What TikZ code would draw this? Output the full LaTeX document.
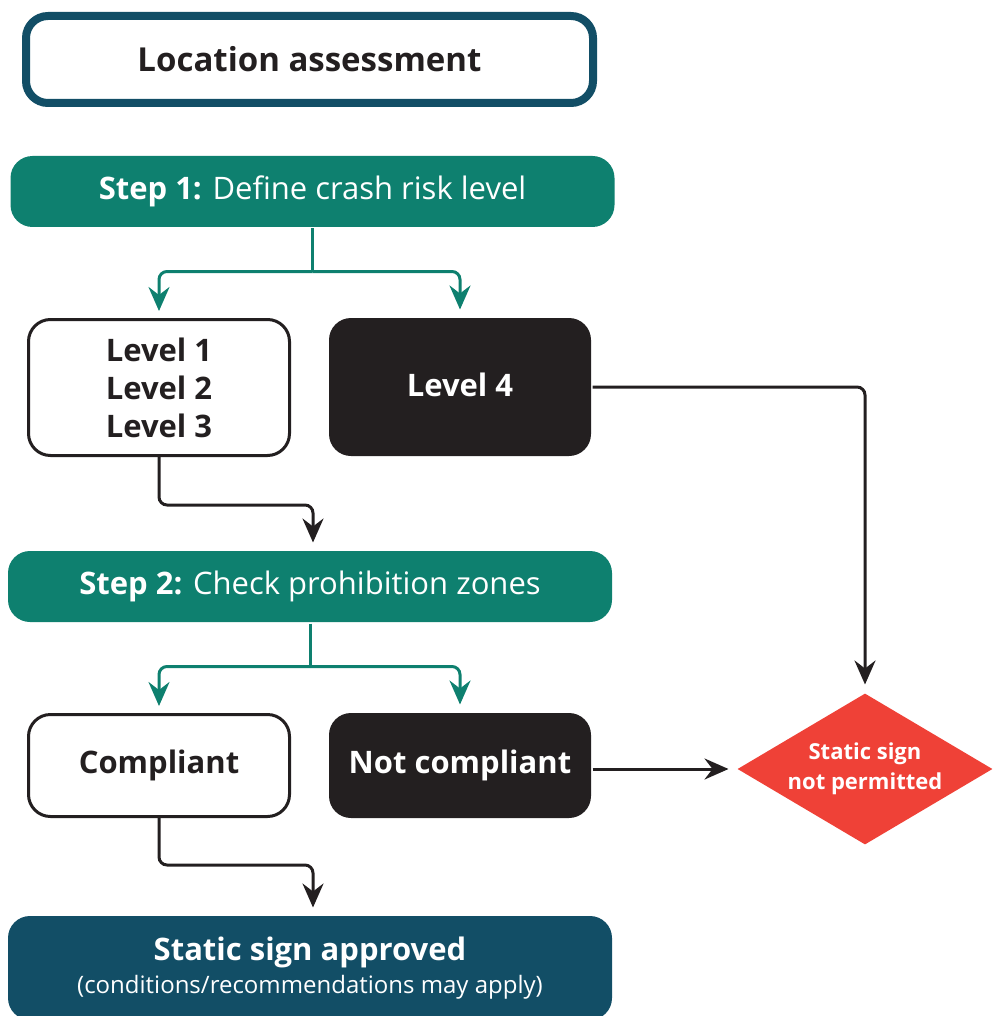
\documentclass[tikz,border=0pt]{standalone}
\usepackage{fontspec}
\setmainfont{Open Sans}
\usetikzlibrary{arrows.meta,shapes.geometric,positioning}
\definecolor{navy}{HTML}{124E66}
\definecolor{sea}{HTML}{0E806F}
\definecolor{ink}{HTML}{231F20}
\definecolor{alarm}{HTML}{EF4137}

\begin{document}
\begin{tikzpicture}[x=1pt,y=-1pt,>={Stealth[length=24pt,width=21pt,inset=8pt]},
                    line width=3pt,
                    step box/.style={rounded corners=22pt,fill=sea,text=white,minimum width=604pt,minimum height=71pt,
                                     font=\fontsize{31}{36}\selectfont},
                    white box/.style={rounded corners=22pt,draw=ink,fill=white,text=ink,minimum width=261pt,align=center,
                                      font=\bfseries\fontsize{31}{38}\selectfont},
                    black box/.style={rounded corners=22pt,fill=ink,text=white,minimum width=262pt,align=center,
                                      font=\bfseries\fontsize{31}{38}\selectfont},
                    sea line/.style={draw=sea,->,rounded corners=8pt,shorten >=7pt},
                    ink line/.style={draw=ink,->,rounded corners=8pt,shorten >=7pt}]
  \useasboundingbox (0,0) rectangle (993,1016);
  \node[draw=navy,line width=8pt,rounded corners=22pt,minimum width=567pt,minimum height=87pt,
        font=\bfseries\fontsize{33}{38}\selectfont,text=ink] (loc) at (309.5,59.5) {Location assessment};
  \node[step box] (s1) at (312.5,191.5) {\textbf{Step 1:} Define crash risk level};
  \node[white box,minimum height=136pt] (lv) at (159,387.5) {Level 1\\Level 2\\Level 3};
  \node[black box,minimum height=138pt,text depth=4pt] (l4) at (460,387) {Level 4};
  \node[step box] (s2) at (310,586.5) {\textbf{Step 2:} Check prohibition zones};
  \node[white box,minimum height=102pt] (cp) at (159,765.5) {Compliant};
  \node[black box,minimum height=105pt] (nc) at (460,765.5) {Not compliant};
  \node[diamond,aspect=1.684,fill=alarm,text=white,inner sep=0pt,minimum width=256pt,minimum height=152pt,align=center,
        font=\bfseries\fontsize{22}{30}\selectfont] (nope) at (865,769) {Static sign\\not permitted};
  \node[rounded corners=22pt,fill=navy,text=white,minimum width=604pt,minimum height=104pt,align=center] (ok) at (310,968)
        {{\bfseries\fontsize{31}{36}\selectfont Static sign approved}\\[6pt]
         {\fontsize{24}{28}\selectfont (conditions/recommendations may apply)}};
  % connectors
  \draw[draw=sea] (s1.south) -- ++(0,43) coordinate (fork1);
  \draw[sea line] (fork1) -| (lv.north);
  \draw[sea line] (fork1) -| (l4.north);
  \draw[ink line] (lv.south) -- ++(0,48) -| ([xshift=3pt]s2.north);
  \draw[ink line] (l4.east) -| (nope.north);
  \draw[draw=sea] (s2.south) -- ++(0,43) coordinate (fork2);
  \draw[sea line] (fork2) -| (cp.north);
  \draw[sea line] (fork2) -| (nc.north);
  \draw[ink line] (nc.east |- nope.west) -- (nope.west);
  \draw[ink line] (cp.south) -- ++(0,47) -| ([xshift=3pt]ok.north);
\end{tikzpicture}
\end{document}
